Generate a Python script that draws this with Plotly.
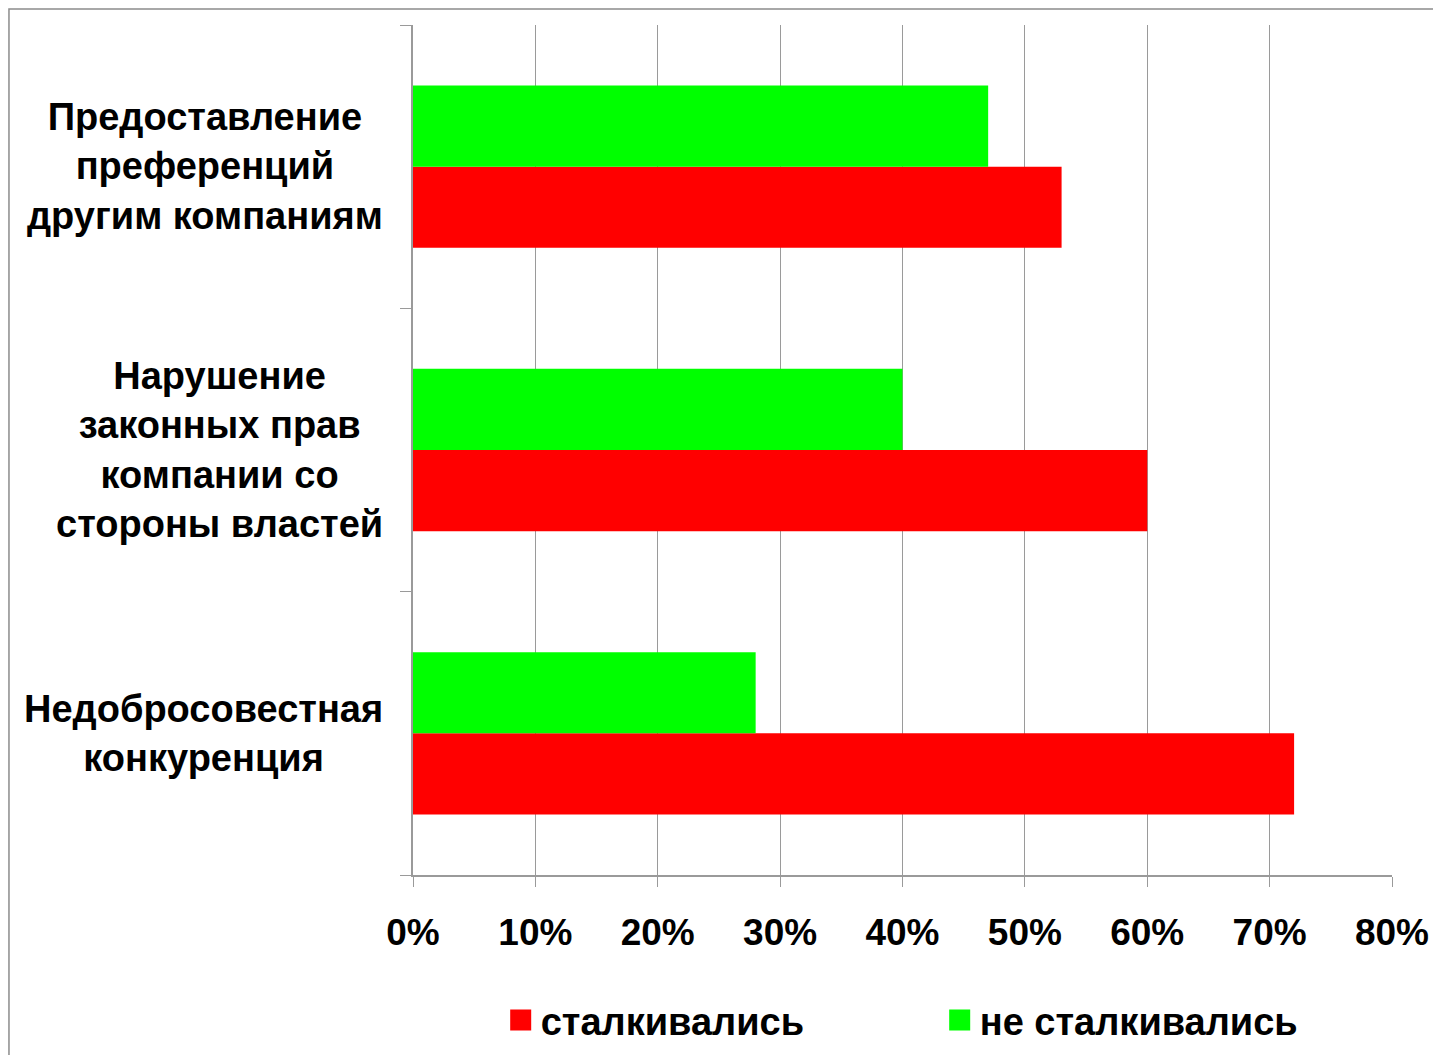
import plotly.graph_objects as go

# категории сверху вниз, как на картинке
categories = [
    "Предоставление<br>преференций<br>другим компаниям",
    "Нарушение<br>законных прав<br>компании со<br>стороны властей",
    "Недобросовестная<br>конкуренция",
]
faced = [0.53, 0.60, 0.72]        # сталкивались
not_faced = [0.47, 0.40, 0.28]    # не сталкивались
series_names = ["сталкивались", "не сталкивались"]
series_colors = ["#FF0000", "#00FF00"]
x_ticks = [0, 0.1, 0.2, 0.3, 0.4, 0.5, 0.6, 0.7, 0.8]

FONT = "Liberation Sans, Arial, sans-serif"
GRID = "#9a9a9a"

fig = go.Figure()

# красные идут первыми -> нижний бар в группе
for vals, name, col in zip([faced, not_faced], series_names, series_colors):
    fig.add_trace(go.Bar(
        x=vals, y=categories, orientation="h", name=name,
        marker=dict(color=col, line=dict(width=0)),
        showlegend=False, hoverinfo="x+name"
    ))
    # отдельный маркер для легенды, чтобы квадрат был крупнее
    fig.add_trace(go.Scatter(
        x=[None], y=[None], mode="markers", name=name,
        marker=dict(symbol="square", size=16, color=col,
                    line=dict(color=col, width=5)),
        showlegend=True
    ))

# подписи категорий: центрированные многострочные блоки слева от оси
for cat in categories:
    fig.add_annotation(
        x=0, xref="paper", y=cat, yref="y",
        text=cat, showarrow=False, xanchor="right", align="center",
        xshift=-28, font=dict(family=FONT, size=38, color="black", weight="bold")
    )

# рамка вокруг всей картинки (правый и нижний край уходят за кадр)
fig.add_shape(
    type="rect", xref="paper", yref="paper",
    x0=-0.4127, x1=1.08, y0=-0.25, y1=1.0188,
    line=dict(color="#8c8c8c", width=1.5), layer="below"
)

fig.update_layout(
    width=1433, height=1047,
    margin=dict(l=405, r=49, t=17, b=180, autoexpand=False),
    paper_bgcolor="white", plot_bgcolor="white",
    barmode="group", bargap=0.427, bargroupgap=0,
    legend=dict(
        orientation="h", x=0.538, xanchor="center", y=-0.171, yanchor="middle",
        font=dict(family=FONT, size=38, color="black", weight="bold"),
        entrywidth=394, itemsizing="trace"
    ),
    xaxis=dict(
        range=[0, 0.8], tickvals=x_ticks, tickformat=".0%",
        showgrid=True, gridcolor=GRID, gridwidth=1,
        showline=True, linecolor=GRID, linewidth=1.5,
        ticks="outside", ticklen=10, tickcolor=GRID,
        ticklabelstandoff=14, zeroline=False,
        tickfont=dict(family=FONT, size=37, color="black", weight="bold"),
    ),
    yaxis=dict(
        categoryorder="array", categoryarray=categories[::-1],
        range=[-0.5, 2.5], showticklabels=False,
        showline=True, linecolor=GRID, linewidth=1.5,
        ticks="outside", ticklen=11, tickcolor=GRID, tickson="boundaries",
        showgrid=False, zeroline=False,
    ),
)

fig.write_html("out.html")
